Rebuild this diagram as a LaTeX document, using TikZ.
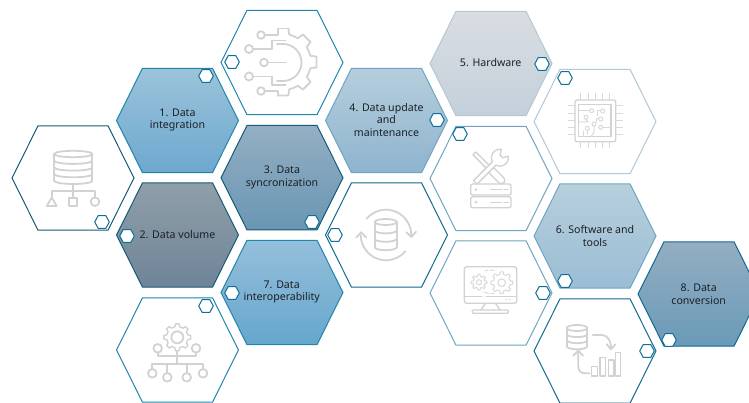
\documentclass[tikz,border=0pt]{standalone}
\usepackage{fontspec}
\setmainfont{Noto Sans}
\usetikzlibrary{calc}
\definecolor{icongray}{HTML}{D2D2D2}
\definecolor{labeltext}{HTML}{1C2024}
\definecolor{bordA}{HTML}{1F86AB}
\definecolor{bordB}{HTML}{155B78}
\definecolor{bordC}{HTML}{B3C8D6}
\definecolor{bordD}{HTML}{6FA5C3}
\definecolor{bordE}{HTML}{11698F}
\definecolor{smallb}{HTML}{0F6F96}
\definecolor{aT}{HTML}{9CC3DA}\definecolor{aB}{HTML}{6DA8CF}
\definecolor{bT}{HTML}{909FA9}\definecolor{bB}{HTML}{6E8497}
\definecolor{cT}{HTML}{93AFC3}\definecolor{cB}{HTML}{6A96B3}
\definecolor{dT}{HTML}{95BFDA}\definecolor{dB}{HTML}{66A6CD}
\definecolor{eT}{HTML}{B5CEDD}\definecolor{eB}{HTML}{8FB4CE}
\definecolor{fT}{HTML}{DADDE2}\definecolor{fB}{HTML}{C3D0DB}
\definecolor{gT}{HTML}{B8CFDD}\definecolor{gB}{HTML}{9ABDD4}
\definecolor{hT}{HTML}{93AEC2}\definecolor{hB}{HTML}{6A9AB8}
\tikzset{
  icon/.style={draw=icongray,line width=1.8pt,line join=round,line cap=round},
  thin icon/.style={icon,line width=1.35pt},
  fine icon/.style={icon,line width=1pt,draw=icongray!85!white},
  hexline/.style={line width=1pt,draw=#1},
  grad/.style 2 args={top color=#1,bottom color=#2},
  label/.style={text=labeltext,font=\fontsize{10.6}{12.9}\selectfont,align=center,inner sep=0pt},
}
\newcommand{\hexa}[3]{\path[#3] (#1-61,#2) -- (#1-35,#2-52.2) -- (#1+35,#2-52.2) -- (#1+61,#2) -- (#1+35,#2+52.2) -- (#1-35,#2+52.2) -- cycle;}
\newcommand{\minihex}[2]{\path[fill=white,draw=smallb,line width=1pt] (#1-7.3,#2) -- (#1-3.8,#2-6.4) -- (#1+3.8,#2-6.4) -- (#1+7.3,#2) -- (#1+3.8,#2+6.4) -- (#1-3.8,#2+6.4) -- cycle;}
% centre x, centre y, root radius, tip radius, teeth, style
\newcommand{\cog}[6]{\foreach \i in {1,...,#5}{%
  \pgfmathsetmacro\ang{\i*360/#5}\pgfmathsetmacro\wi{0.29*360/#5}\pgfmathsetmacro\wo{0.17*360/#5}\pgfmathsetmacro\nx{360/#5-\wi}%
  \draw[#6,shift={(#1,#2)},rotate=\ang] (-\wi:#3) -- (-\wo:#4) -- (\wo:#4) -- (\wi:#3) arc[start angle=\wi,end angle=\nx,radius=#3];}}
% centre x, top y, half width, ellipse ry, band height, bands
\newcommand{\dbstack}[6]{%
  \draw[icon] (#1,#2) ellipse[x radius=#3,y radius=#4];
  \draw[icon] (#1-#3,#2) -- (#1-#3,#2+#5*#6) (#1+#3,#2) -- (#1+#3,#2+#5*#6);
  \foreach \k in {1,...,#6}{\draw[icon] (#1-#3,#2+#5*\k) arc[start angle=180,end angle=360,x radius=#3,y radius=-#4];}}
\begin{document}
\begin{tikzpicture}[x=1pt,y=1pt,yscale=-1]
\useasboundingbox (0,0) rectangle (749,403);
% coloured hexagons
\hexa{177.5}{120.5}{hexline=bordA,grad={aT}{aB}}
\hexa{177.5}{235}{hexline=bordB,grad={bT}{bB}}
\hexa{282}{177.7}{hexline=bordB,grad={cT}{cB}}
\hexa{282}{292.5}{hexline=bordA,grad={dT}{dB}}
\hexa{386.5}{120.5}{hexline=bordD,grad={eT}{eB}}
\hexa{491}{63.5}{hexline=bordC,grad={fT}{fB}}
\hexa{595}{236}{hexline=bordD,grad={gT}{gB}}
\hexa{699}{294}{hexline=bordE,grad={hT}{hB}}
% white hexagons
\hexa{282}{62.5}{hexline=bordA,fill=white}
\hexa{73}{178}{hexline=bordB,fill=white}
\hexa{177.5}{350}{hexline=bordA,fill=white}
\hexa{386.5}{235}{hexline=bordE,fill=white}
\hexa{595}{121.5}{hexline=bordC,fill=white}
\hexa{491}{178.5}{hexline=bordD,fill=white}
\hexa{491}{293}{hexline=bordD,fill=white}
\hexa{595}{351}{hexline=bordE,fill=white}
% labels
\node[label] (l1) at (177.5,120) {1. Data\\integration};
\node[label] (l2) at (177.5,235) {2. Data volume};
\node[label] (l3) at (282,177) {3. Data\\syncronization};
\node[label] (l4) at (386.5,120) {4. Data update\\and\\maintenance};
\node[label] (l5) at (490.7,63) {5. Hardware};
\node[label] (l6) at (595,235.7) {6. Software and\\tools};
\node[label] (l7) at (281.7,292) {7. Data\\interoperability};
\node[label] (l8) at (698.7,294) {8. Data\\conversion};
% small hexagons
\minihex{206}{76}\minihex{232}{62}\minihex{102}{222}\minihex{127}{236}
\minihex{312}{222}\minihex{232}{293}\minihex{206}{306}\minihex{437}{120}
\minihex{335}{235}\minihex{542}{64}\minihex{565}{78}\minihex{460}{134}
\minihex{565}{281}\minihex{543}{293}\minihex{647}{351}\minihex{669}{340}
% circuit gear icon
\foreach \a in {-90,-45,0,45}{
  \pgfmathsetmacro\p{\a+9}\pgfmathsetmacro\q{\a+13}\pgfmathsetmacro\r{\a+32}\pgfmathsetmacro\s{\a+36}\pgfmathsetmacro\t{\a+54}
  \draw[icon,shift={(283,62)}] (\p:34) -- (\q:28) arc[start angle=\q,end angle=\r,radius=28] -- (\s:34) -- (\t:34);}
\draw[icon] (264.8,35) -- (278,35) -- (278,28.5) -- (288.5,28.5);
\draw[icon] (264.8,91) -- (278,91) -- (278,95.6);
\draw[icon] (261,35) circle[radius=3.8] (261,91) circle[radius=3.8];
\draw[icon] (249,49) circle[radius=4] (264,62.5) circle[radius=3.8] (249,76.5) circle[radius=4];
\draw[icon] (253,49) -- (272.3,49) -- (272.3,40.5) -- (285.7,40.5);
\draw[icon] (267.8,62.5) -- (285.7,62.5);
\draw[icon] (253,76.5) -- (272.3,76.5) -- (272.3,85) -- (285.7,85);
\draw[icon] (277,44) -- (283,44) arc[start angle=-90,end angle=90,radius=18.5] -- (277,81);
% database tree icon
\dbstack{73.3}{154}{19}{3.2}{6.7}{4}
\draw[icon] (73.3,183.5) -- (73.3,198) (73.3,190.7) -- (51.7,190.7) -- (51.7,198) (73.3,190.7) -- (95,190.7) -- (95,197.4);
\draw[icon] (51.7,197.5) -- (46.7,206) -- (56.7,206) -- cycle;
\draw[icon] (69.3,198) rectangle (77.3,206);
\draw[icon] (95,201.7) circle[radius=4.3];
% gear tree icon
\cog{177.3}{337.3}{10.8}{13.5}{8}{thin icon}
\draw[icon] (177.3,337.3) circle[radius=6];
\draw[icon] (177.3,351) -- (177.3,364.3);
\draw[icon] (157.7,352.6) -- (157.7,355.7) -- (196,355.7) -- (196,352.6);
\draw[icon] (152.3,369) -- (152.3,364.3) -- (203,364.3) -- (203,369);
\draw[icon] (167.3,364.3) -- (167.3,373) (186.7,364.3) -- (186.7,373);
\foreach \px/\py in {157.7/348.3,196/348.3,152.3/373.3,167.3/377.3,186.7/377.3,203/373.3}{\draw[icon] (\px,\py) circle[radius=4.3];}
% database cycle icon
\dbstack{385.7}{222}{11}{3}{8.4}{3}
\draw[icon] (386,235) ++(-140:25.3) arc[start angle=-140,end angle=0,radius=25.3];
\draw[icon] (386,235) ++(40:25.3) arc[start angle=40,end angle=180,radius=25.3];
\draw[icon] (406.5,232.3) -- (411.3,237) -- (416,231.7);
\draw[icon] (356.2,237.5) -- (361.2,232.3) -- (366.2,237.5);
% tools and server icon
\begin{scope}[shift={(489.3,168.3)},rotate=45]
  \draw[thin icon] (-21,-2) -- (3,-2) -- (3,-3.5) -- (17,-3.5) arc[start angle=-90,end angle=90,radius=3.5] -- (3,3.5) -- (3,2) -- (-21,2) -- cycle;
\end{scope}
\begin{scope}[shift={(489.3,168.3)},rotate=-45]
  \path[fill=white] (-20,2.5) -- (6.9,2.5) arc[start angle=163,end angle=35,radius=8.5] -- (17,2) -- (17,-2) -- (22,-4.9) arc[start angle=-35,end angle=-163,radius=8.5] -- (-20,-2.5) -- cycle;
  \draw[thin icon] (-20,2.5) -- (6.9,2.5) arc[start angle=163,end angle=35,radius=8.5] -- (17,2) -- (17,-2) -- (22,-4.9) arc[start angle=-35,end angle=-163,radius=8.5] -- (-20,-2.5) -- cycle;
\end{scope}
\foreach \yy in {184,196.7}{
  \draw[thin icon,rounded corners=2pt] (470.7,\yy) rectangle (511,\yy+11);
  \draw[fine icon] (476,\yy+5.5) circle[radius=1];
  \draw[thin icon] (490.7,\yy+5.8) -- (501.7,\yy+5.8) (504.3,\yy+5.8) -- (508,\yy+5.8);}
% chip icon
\draw[thin icon,rounded corners=2pt] (575,100) rectangle (615.7,141.7);
\draw[thin icon] (578.3,104.3) rectangle (611,136.7);
\foreach \v in {580.7,588.3,595.7,602.3,609.3}{\draw[fine icon] (\v,93.3) -- (\v,100) (\v,141.7) -- (\v,147.3);}
\foreach \v in {106,113.3,120.7,128,135}{\draw[fine icon] (568.3,\v) -- (575,\v) (615.7,\v) -- (622.3,\v);}
\foreach \px/\py in {591.7/110.7,602.7/111,600.7/119,586/117.3,594/124,600.7/127.3,587.3/128.3}{\draw[fine icon] (\px,\py) circle[radius=2];}
\draw[fine icon] (578.3,110.7) -- (589.7,110.7);
\draw[fine icon] (578.3,122) -- (588,122) -- (586,119.3);
\draw[fine icon] (600.7,111) -- (597.5,111) -- (597.5,116);
\draw[fine icon] (598.7,119) -- (596,119) -- (596,122);
\draw[fine icon] (602.7,127.3) -- (611,127.3);
\draw[fine icon] (594,126) -- (594,132) -- (591,136.7);
\draw[fine icon] (583,131) -- (583,136.7);
\draw[fine icon] (587.3,130.3) -- (587.3,134);
% monitor icon
\draw[thin icon,rounded corners=2.5pt] (464.3,266.7) rectangle (516.7,303.3);
\draw[thin icon] (464.3,296.7) -- (482,296.7) (486,296.7) -- (516.7,296.7);
\draw[thin icon] (505.7,299.7) -- (506.3,299.7) (509,299.7) -- (509.6,299.7);
\draw[thin icon] (485.5,303.3) -- (481,310) (495.5,303.3) -- (500,310);
\draw[thin icon,rounded corners=1pt] (472.3,310) rectangle (508.3,313.3);
\cog{479}{282.3}{6}{8}{8}{fine icon}
\draw[fine icon] (479,282.3) circle[radius=2.6];
\cog{501.7}{282.7}{8.5}{11}{8}{fine icon}
\draw[fine icon] (501.7,282.7) circle[radius=3.8];
\draw[fine icon] (485,271) -- (488,270) (490.5,270) -- (494,270.3);
\draw[fine icon] (484,292) -- (489,293.5) (491,293.5) -- (494,293.3);
% data-to-chart icon
\dbstack{577}{328}{10.3}{3}{6.1}{3}
\draw[icon] (592.7,335) -- (602,335) .. controls (607,335) and (611,340) .. (611,349);
\draw[icon] (606.7,344.3) -- (611,349.3) -- (615.5,344.3);
\draw[icon] (578.3,351) -- (578.3,366) .. controls (578.3,371) and (581,373.3) .. (585,373.3) -- (589.5,373.3);
\draw[icon] (573.3,355.7) -- (578.3,350.7) -- (583,355.7);
\draw[thin icon] (591.7,366.7) rectangle (597.3,376);
\draw[thin icon] (600,357.7) rectangle (605.7,376);
\draw[thin icon] (608.5,360) rectangle (614,376);
\draw[thin icon] (615.5,352.3) rectangle (620.7,376);
\end{tikzpicture}
\end{document}
